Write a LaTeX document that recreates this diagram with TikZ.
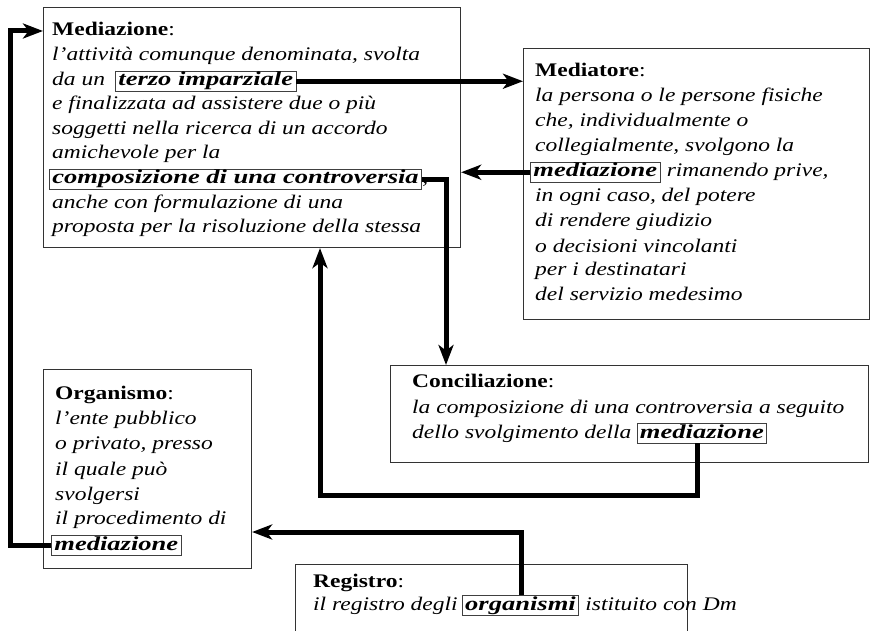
\documentclass[tikz,border=0pt]{standalone}
\usepackage{fontspec}
\setmainfont{Liberation Serif}[FakeStretch=1.22]
\newfontfamily\kwfont{Liberation Serif}[FakeStretch=1.34]
\usetikzlibrary{arrows.meta}
\begin{document}
\begin{tikzpicture}[x=1pt,y=-1pt,
  every node/.style={font=\fontsize{19.25pt}{24.6pt}\selectfont},
  frame/.style={draw=black!80, line width=1.1pt, anchor=north west, inner sep=0pt},
  txt/.style={anchor=base west, inner sep=0pt, font=\fontsize{19.25pt}{24.6pt}\selectfont\itshape},
  head/.style={anchor=base west, inner sep=0pt},
  kw/.style={draw=black!75, line width=0.8pt, anchor=base west, inner xsep=3pt, inner ysep=1.5pt,
     text height=13pt, text depth=3.5pt, font=\fontsize{19.8pt}{24.6pt}\kwfont\bfseries\itshape},
  conn/.style={line width=5pt, -{Stealth[length=20pt,width=15pt,inset=5.5pt]}}
]
\useasboundingbox (0,0) rectangle (873,631);
\clip (0,0) rectangle (873,631);

% frames
\node[frame, minimum width=417pt, minimum height=240pt] (medz) at (43,7) {};
\node[frame, minimum width=346pt, minimum height=271pt] (mtr) at (523,48) {};
\node[frame, minimum width=478pt, minimum height=97pt] (conc) at (390,365) {};
\node[frame, minimum width=208pt, minimum height=199pt] (org) at (43,369) {};
\node[frame, minimum width=392pt, minimum height=100pt] (reg) at (295,564) {};

% Mediazione
\node[head] (mz1) at (52,36) {\textbf{Mediazione}:};
\node[txt] (mz2) at (52,61) {l’attività comunque denominata, svolta};
\node[txt] (mz3) at (52,86) {da un};
\node[kw] (terzo) at (115,86) {terzo imparziale};
\node[txt] (mz4) at (52,110) {e finalizzata ad assistere due o più};
\node[txt] (mz5) at (52,135) {soggetti nella ricerca di un accordo};
\node[txt] (mz6) at (52,159) {amichevole per la};
\node[kw] (comp) at (49,184) {composizione di una controversia};
\node[txt] (mz7) at (comp.base east) {,};
\node[txt] (mz8) at (52,209) {anche con formulazione di una};
\node[txt] (mz9) at (52,233) {proposta per la risoluzione della stessa};

% Mediatore
\node[head] (mt1) at (535,77) {\textbf{Mediatore}:};
\node[txt] (mt2) at (535,102) {la persona o le persone fisiche};
\node[txt] (mt3) at (535,127) {che, individualmente o};
\node[txt] (mt4) at (535,152) {collegialmente, svolgono la};
\node[kw] (medr) at (530,177) {mediazione};
\node[txt] (mt5) at ([xshift=6pt]medr.base east) {rimanendo prive,};
\node[txt] (mt6) at (535,202) {in ogni caso, del potere};
\node[txt] (mt7) at (535,227) {di rendere giudizio};
\node[txt] (mt8) at (535,252) {o decisioni vincolanti};
\node[txt] (mt9) at (535,276) {per i destinatari};
\node[txt] (mt10) at (535,300) {del servizio medesimo};

% Conciliazione
\node[head] (cc1) at (412,387) {\textbf{Conciliazione}:};
\node[txt] (cc2) at (412,413) {la composizione di una controversia a seguito};
\node[txt] (cc3) at (412,438) {dello svolgimento della};
\node[kw] (concm) at ([xshift=5pt]cc3.base east) {mediazione};

% Organismo
\node[head] (og1) at (55,399) {\textbf{Organismo}:};
\node[txt] (og2) at (55,424) {l’ente pubblico};
\node[txt] (og3) at (55,449) {o privato, presso};
\node[txt] (og4) at (55,475) {il quale può};
\node[txt] (og5) at (55,500) {svolgersi};
\node[txt] (og6) at (55,524) {il procedimento di};
\node[kw] (orgm) at (51,550) {mediazione};

% Registro
\node[head] (rg1) at (313,587) {\textbf{Registro}:};
\node[txt] (rg2) at (313,610) {il registro degli};
\node[kw] (regm) at ([xshift=4pt]rg2.base east) {organismi};
\node[txt] (rg3) at ([xshift=6pt]regm.base east) {istituito con Dm};

% connectors
\coordinate (c3) at (446,0);
\coordinate (k1) at (697,495);
\coordinate (k2) at (320,495);
\coordinate (l1) at (10,31);
\coordinate (r1) at (521,532);

\draw[conn] (terzo.east) -- (terzo.east -| mtr.west);
\draw[conn] (medr.west) -- (medr.west -| medz.east);
\draw[conn] (comp.east) -| (c3 |- conc.north);
\draw[conn] (k1 |- concm.south) -- (k1) -- (k2) -- (k2 |- medz.south);
\draw[conn] (orgm.west) -| (l1) -- (l1 -| medz.west);
\draw[conn] (r1 |- regm.north) -- (r1) -- (r1 -| org.east);
\end{tikzpicture}
\end{document}
